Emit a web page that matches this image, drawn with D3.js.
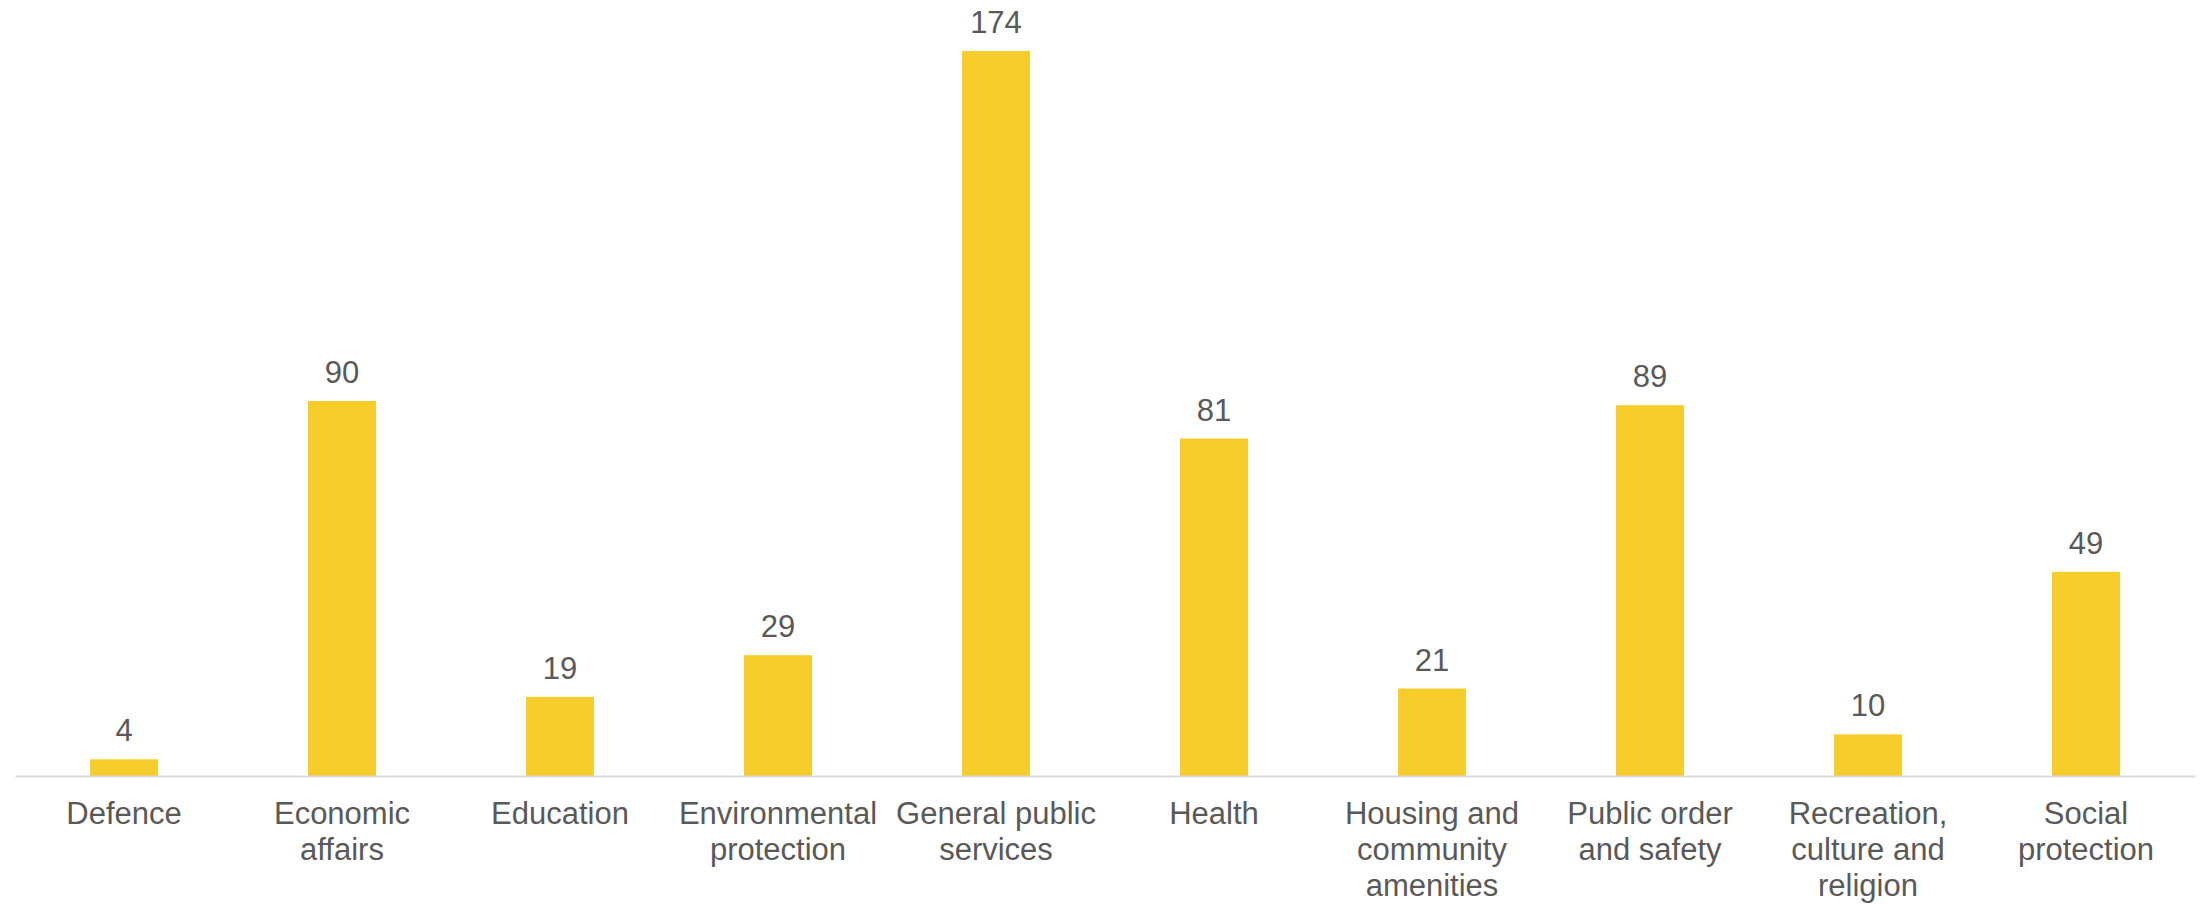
<!DOCTYPE html>
<html>
<head>
<meta charset="utf-8">
<script src="https://cdn.jsdelivr.net/npm/d3@7"></script>
<style>
  body { margin: 0; background: #fff; }
  svg { display: block; }
</style>
</head>
<body>
<div id="chart"></div>
<script>
// Data
const categories = [
    "Defence",
    "Economic affairs",
    "Education",
    "Environmental protection",
    "General public services",
    "Health",
    "Housing and community amenities",
    "Public order and safety",
    "Recreation, culture and religion",
    "Social protection"
];
const values = [4, 90, 19, 29, 174, 81, 21, 89, 10, 49];

const width = 2206;
const height = 905;
const margin = { top: 26, right: 11, bottom: 129, left: 15 };
const innerWidth = width - margin.left - margin.right;
const innerHeight = height - margin.top - margin.bottom;

const textColor = "#595959";
const fontSize = 31;

const svg = d3.select("#chart")
    .append("svg")
    .attr("width", width)
    .attr("height", height)
    .style("font-family", "'Liberation Sans', Arial, sans-serif");

const g = svg.append("g")
    .attr("transform", `translate(${margin.left}, ${margin.top})`);

// Scales
const xScale = d3.scaleBand()
    .domain(categories)
    .range([0, innerWidth])
    .paddingInner(0.688)
    .paddingOuter(0.344);

const yScale = d3.scaleLinear()
    .domain([0, 180])
    .range([innerHeight, 0]);

// Bars
g.selectAll("rect.bar")
    .data(values)
    .join("rect")
    .attr("class", "bar")
    .attr("x", (d, i) => xScale(categories[i]))
    .attr("y", d => yScale(d))
    .attr("width", xScale.bandwidth())
    .attr("height", d => yScale(0) - yScale(d))
    .attr("fill", "#F7CD2B");

// Value labels
g.selectAll("text.value")
    .data(values)
    .join("text")
    .attr("class", "value")
    .attr("x", (d, i) => xScale(categories[i]) + xScale.bandwidth() / 2)
    .attr("y", d => yScale(d) - 18)
    .attr("text-anchor", "middle")
    .style("font-size", fontSize + "px")
    .style("fill", textColor)
    .text(d => d);

// x axis (line only, wrapped labels)
const xAxis = d3.axisBottom(xScale)
    .tickSize(0)
    .tickPadding(26);

const axisG = g.append("g")
    .attr("class", "x-axis")
    .attr("transform", `translate(0, ${innerHeight})`)
    .call(xAxis);

axisG.select(".domain")
    .attr("stroke", "#D9D9D9")
    .attr("stroke-width", 2);

axisG.selectAll(".tick text")
    .style("font-size", fontSize + "px")
    .style("font-family", "'Liberation Sans', Arial, sans-serif")
    .attr("fill", textColor)
    .call(wrap, 216);

// Wrap long labels onto several lines
function wrap(texts, maxWidth) {
    texts.each(function () {
        const text = d3.select(this);
        const words = text.text().split(/\s+/);
        const y = text.attr("y");
        text.text(null);
        let line = [];
        let lineNumber = 0;
        let tspan = text.append("tspan").attr("x", 0).attr("y", y).attr("dy", "0.71em");
        for (const word of words) {
            line.push(word);
            tspan.text(line.join(" "));
            if (tspan.node().getComputedTextLength() > maxWidth && line.length > 1) {
                line.pop();
                tspan.text(line.join(" "));
                line = [word];
                lineNumber++;
                tspan = text.append("tspan")
                    .attr("x", 0)
                    .attr("y", y)
                    .attr("dy", (0.71 * fontSize + lineNumber * 36) + "px")
                    .text(word);
            }
        }
    });
}
</script>
</body>
</html>
